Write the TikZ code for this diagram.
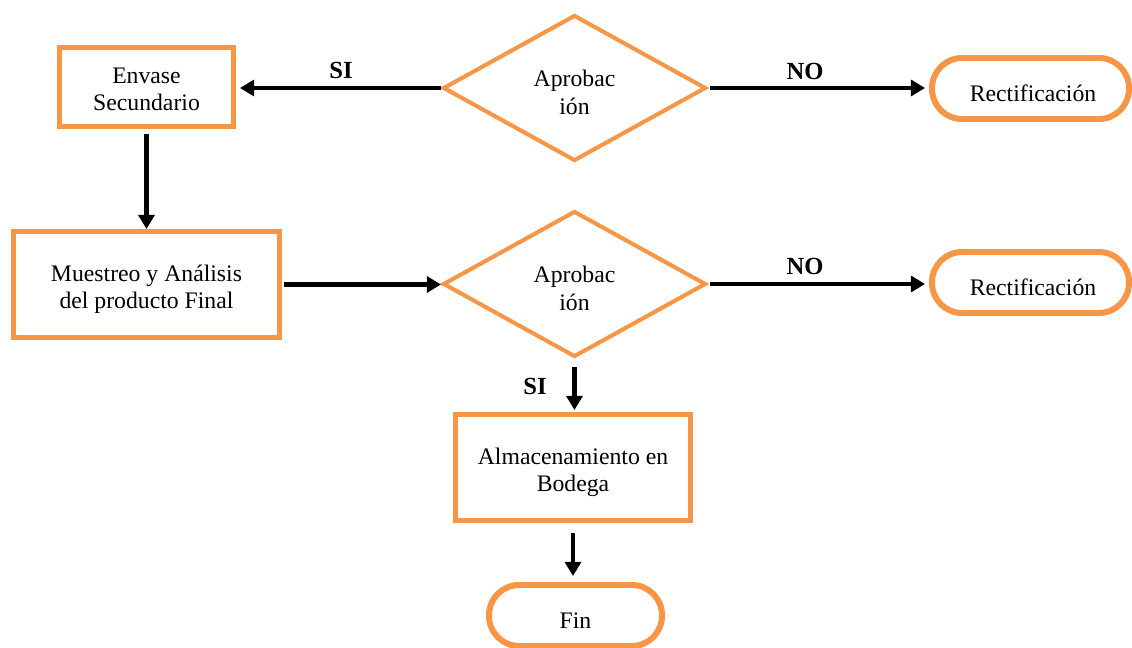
\documentclass[tikz,border=0pt]{standalone}
\usepackage{fontspec}
\setmainfont{Liberation Serif}
\usetikzlibrary{shapes.geometric,arrows.meta}
\definecolor{orng}{HTML}{F79646}
\begin{document}
\begin{tikzpicture}[x=0.02cm,y=-0.02cm,
 procbox/.style={draw=orng,line width=2.8pt,fill=white,align=center,font=\fontsize{13.5}{15.5}\selectfont,inner sep=0pt,text height=0.95cm,text depth=0cm},
 decision/.style={diamond,draw=orng,line width=2.3pt,fill=white,align=center,font=\fontsize{13.5}{16}\selectfont,inner sep=0pt,aspect=1.8,minimum width=5.26cm,minimum height=2.92cm,text height=1.08cm,text depth=0cm},
 terminal/.style={draw=orng,line width=3.4pt,fill=white,rounded corners=0.6cm,align=center,font=\fontsize{13.5}{15}\selectfont,inner sep=0pt,minimum height=1.22cm,text height=0.54cm,text depth=0.02cm},
 flow/.style={line width=2.8pt,-{Triangle[length=8pt,width=9pt]}},
 lbl/.style={font=\fontsize{14}{16}\selectfont\bfseries,inner sep=0pt}]
\path[use as bounding box] (0,0) rectangle (1132,648);
\clip (0,0) rectangle (1132,648);

% nodes
\node[procbox,minimum width=3.48cm,minimum height=1.58cm] (env) at (146.5,87) {Envase\\Secundario};
\node[decision] (d1) at (574.5,88) {Aprobac\\ión};
\node[terminal,minimum width=3.94cm] (r1) at (1030.5,88.5) {\hspace*{0.1cm}Rectificación};

\node[procbox,minimum width=5.32cm,minimum height=2.12cm] (mue) at (146.5,284.5) {Muestreo y Análisis\\del producto Final};
\node[decision] (d2) at (574.5,284) {Aprobac\\ión};
\node[terminal,minimum width=3.94cm] (r2) at (1030.5,282.5) {\hspace*{0.1cm}Rectificación};

\node[procbox,minimum width=4.7cm,minimum height=2.12cm] (alm) at (573,467.5) {Almacenamiento en\\Bodega};
\node[terminal,minimum width=3.46cm] (fin) at (575.5,615.5) {Fin};

% labels
\node[lbl] (si1) at (341,70) {SI};
\node[lbl] (no1) at (805,71) {NO};
\node[lbl] (no2) at (805,266) {NO};
\node[lbl] (si2) at (535,386) {SI};

% connectors
\draw[flow,shorten >=0.08cm] (d1.west) -- (d1.west -| env.east);
\draw[flow,shorten <=0.1cm] (env.south) -- (env.south |- mue.north);
\draw[flow,shorten <=0.04cm] (mue.east) -- (mue.east -| d2.west);
\draw[flow,shorten <=0.04cm,shorten >=0.08cm] (d1.east) -- (d1.east -| r1.west);
\draw[flow,shorten <=0.04cm,shorten >=0.08cm] (d2.east) -- (d2.east -| r2.west);
\draw[flow,shorten <=0.16cm,shorten >=0.04cm] (d2.south) -- (d2.south |- alm.north);
\draw[flow,shorten <=0.2cm,shorten >=0.12cm] (alm.south) -- (alm.south |- fin.north);
\end{tikzpicture}
\end{document}
